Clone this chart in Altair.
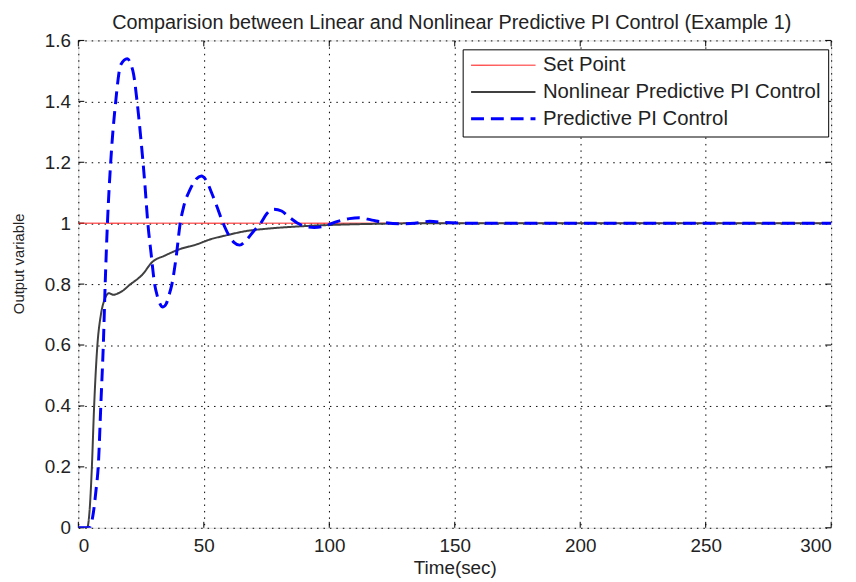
import altair as alt
import pandas as pd

# ---- data ----
chart_title = "Comparision between Linear and Nonlinear Predictive PI Control (Example 1)"
series_names = ["Set Point", "Nonlinear Predictive PI Control", "Predictive PI Control"]
series_colors = ["#ff0000", "#404040", "#0000ff"]
series_widths = [1, 3, 3.2]
series_dashes = [[1, 0], [1, 0], [13, 7]]

t_set = [0, 300]
y_set = [1.0, 1.0]

t_nl = [0, 3.5, 4.6, 5.4, 6.3, 7.6, 9, 10.5, 12.2, 14, 15.9, 18, 20.8, 22.5, 25.4,
        29.4, 34.6, 40.5, 47, 53, 58.4, 67.5, 74, 87, 100, 119, 140, 180, 300]
y_nl = [0, 0, 0.07, 0.2, 0.4, 0.6, 0.7, 0.75, 0.77, 0.765, 0.77, 0.78, 0.8, 0.81, 0.83,
        0.872, 0.894, 0.915, 0.93, 0.948, 0.959, 0.975, 0.981, 0.989, 0.994, 0.998, 1.0, 1.0, 1.0]

t_pi = [0, 4.3, 6, 7, 8, 9, 10, 10.7, 11.6, 12.9, 14.9, 16.9, 19.5, 21, 22, 23.4, 25, 26.5,
        27.7, 29, 30.4, 31.5, 33.7, 35, 36, 37.3, 39, 40.6, 42, 44.5, 47, 49, 51, 53.1, 55,
        57.7, 60, 62, 64.3, 67, 70, 72.7, 75, 78, 81, 84, 87.4, 90, 94, 98, 103, 108, 112,
        117, 122, 128, 134, 140, 146, 155, 170, 200, 300]
y_pi = [0, 0, 0.05, 0.12, 0.21, 0.41, 0.61, 0.8, 1.0, 1.2, 1.4, 1.52, 1.54, 1.52, 1.49, 1.4,
        1.27, 1.13, 1.0, 0.9, 0.8, 0.76, 0.725, 0.735, 0.76, 0.8, 0.89, 1.0, 1.055, 1.11, 1.145,
        1.155, 1.14, 1.1, 1.06, 1.0, 0.96, 0.937, 0.928, 0.945, 0.975, 1.0, 1.03, 1.046, 1.04,
        1.02, 1.0, 0.99, 0.986, 0.99, 1.005, 1.015, 1.018, 1.01, 1.002, 0.998, 1.0, 1.006,
        1.002, 1.0, 1.0, 1.0, 1.0]

x_ticks = [0, 50, 100, 150, 200, 250, 300]
y_ticks = [0, 0.2, 0.4, 0.6, 0.8, 1.0, 1.2, 1.4, 1.6]

W, H = 760, 492

frames = []
for name, ts, ys in [(series_names[0], t_set, y_set),
                     (series_names[1], t_nl, y_nl),
                     (series_names[2], t_pi, y_pi)]:
    frames.append(pd.DataFrame({"t": ts, "y": ys, "series": name}))
df = pd.concat(frames, ignore_index=True)

xt = pd.DataFrame({"v": x_ticks})
yt = pd.DataFrame({"v": y_ticks})
tt = pd.DataFrame({"label": [chart_title]})

FONT = "Liberation Sans"

x_scale = alt.Scale(domain=[0, 300], nice=False, zero=False)
y_scale = alt.Scale(domain=[0, 1.6], nice=False, zero=False)

x_enc = alt.X("t:Q", scale=x_scale, axis=alt.Axis(
    values=x_ticks, title="Time(sec)", grid=True, gridDash=[1.5, 5], gridColor="#000000",
    gridOpacity=1, gridWidth=1, tickSize=0, domain=False, labelFontSize=19, labelFont=FONT,
    labelColor="#222222", labelPadding=9, titleFont=FONT, titleFontSize=19,
    titleFontWeight="normal", titleColor="#222222", titleY=40, titleBaseline="middle"))
y_enc = alt.Y("y:Q", scale=y_scale, axis=alt.Axis(
    values=y_ticks, title="Output variable", grid=True, gridDash=[1.5, 5], gridColor="#000000",
    gridOpacity=1, gridWidth=1, tickSize=0, domain=False, labelFontSize=19, labelFont=FONT,
    labelColor="#222222", labelPadding=8, labelFlush=False, format="~g",
    titleFont=FONT, titleFontSize=15, titleFontWeight="normal", titleColor="#222222",
    titleX=-60, titleY=225, titleAngle=270, titleBaseline="middle", titleAlign="center"))

color_enc = alt.Color("series:N", scale=alt.Scale(domain=series_names, range=series_colors),
                      legend=alt.Legend(title=None, orient="none", legendX=388, legendY=9,
                                        symbolType="stroke", symbolSize=4225,
                                        labelFontSize=20.5, labelFont=FONT, labelColor="#222222",
                                        labelLimit=400, labelOffset=6,
                                        strokeColor="#000000", fillColor="#ffffff",
                                        padding=7, rowPadding=6, clipHeight=18))
width_enc = alt.StrokeWidth("series:N", scale=alt.Scale(domain=series_names, range=series_widths),
                            legend=alt.Legend(title=None))
dash_enc = alt.StrokeDash("series:N", scale=alt.Scale(domain=series_names, range=series_dashes),
                          legend=alt.Legend(title=None))

base = alt.Chart(df)
layers = []
for name in series_names:
    layers.append(
        base.transform_filter(alt.datum.series == name)
        .mark_line(interpolate="monotone", clip=True)
        .encode(x=x_enc, y=y_enc, color=color_enc, strokeWidth=width_enc, strokeDash=dash_enc)
    )

tick_len = 6
xb = alt.Chart(xt).mark_rule(color="#000000", strokeWidth=1).encode(
    x=alt.X("v:Q", scale=x_scale), y=alt.value(H), y2=alt.value(H - tick_len))
xtop = alt.Chart(xt).mark_rule(color="#000000", strokeWidth=1).encode(
    x=alt.X("v:Q", scale=x_scale), y=alt.value(0), y2=alt.value(tick_len))
yl = alt.Chart(yt).mark_rule(color="#000000", strokeWidth=1).encode(
    y=alt.Y("v:Q", scale=y_scale), x=alt.value(0), x2=alt.value(tick_len))
yr = alt.Chart(yt).mark_rule(color="#000000", strokeWidth=1).encode(
    y=alt.Y("v:Q", scale=y_scale), x=alt.value(W), x2=alt.value(W - tick_len))

title_layer = alt.Chart(tt).mark_text(
    font=FONT, fontSize=20, color="#222222", align="center", baseline="alphabetic"
).encode(text="label:N", x=alt.value(W / 2 - 3), y=alt.value(-12))

chart = alt.layer(xb, xtop, yl, yr, *layers, title_layer).properties(
    width=W, height=H,
    autosize=alt.AutoSizeParams(type="none"),
    padding={"left": 71, "top": 30, "right": 17, "bottom": 52},
).configure_view(stroke="#000000", strokeWidth=1).configure(background="#ffffff")

chart.save("out.html", embed_options={"renderer": "svg", "actions": False})
